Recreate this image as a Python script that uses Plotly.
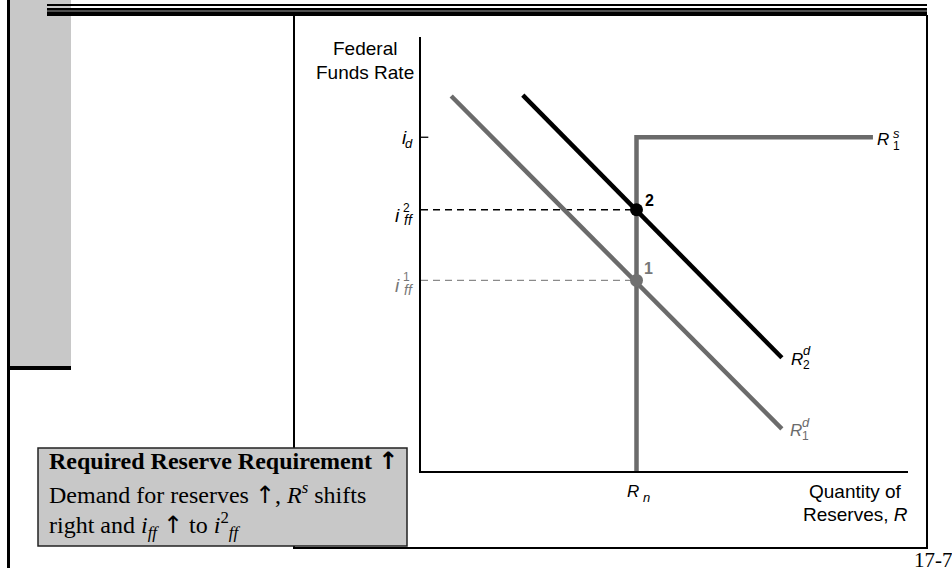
import plotly.graph_objects as go

# ---------------- data (arbitrary units 0-100) ----------------
x_range = [0, 100]
y_range = [0, 100]
Rn = 44.25            # non-borrowed reserves
i_d = 76.9            # discount rate
i_ff1 = 43.9          # initial equilibrium fed funds rate
i_ff2 = 60.2          # new equilibrium fed funds rate

rs1_x = [Rn, Rn, 92.8]
rs1_y = [0, i_d, i_d]
rd1_x = [6.2, 74.1]
rd1_y = [86.4, 9.7]
rd2_x = [20.9, 74.1]
rd2_y = [86.6, 26.1]

W, H = 952, 571
GRAY = "#6b6b6b"
SANS = "Liberation Sans, Arial, sans-serif"
SERIF = "Liberation Serif, Times New Roman, serif"
ARROW = '<span style="font-family:DejaVu Sans">\u2191</span>'


def px(x):
    return x / W


def py(y):
    return 1 - y / H


fig = go.Figure()

# dashed guides
fig.add_trace(go.Scatter(x=[0, Rn], y=[i_ff2, i_ff2], mode="lines",
                         line=dict(color="black", width=1.3, dash="7px,5px"), hoverinfo="skip"))
fig.add_trace(go.Scatter(x=[0, Rn], y=[i_ff1, i_ff1], mode="lines",
                         line=dict(color="#8a8a8a", width=1.3, dash="7px,5px"), hoverinfo="skip"))
# i_d tick
fig.add_trace(go.Scatter(x=[0, 1.5], y=[i_d, i_d], mode="lines",
                         line=dict(color="black", width=1.3), hoverinfo="skip"))
# curves
fig.add_trace(go.Scatter(x=rs1_x, y=rs1_y, mode="lines",
                         line=dict(color=GRAY, width=4.5), hoverinfo="skip"))
fig.add_trace(go.Scatter(x=rd1_x, y=rd1_y, mode="lines",
                         line=dict(color=GRAY, width=4.5), hoverinfo="skip"))
fig.add_trace(go.Scatter(x=rd2_x, y=rd2_y, mode="lines",
                         line=dict(color="black", width=4.5), hoverinfo="skip"))
# equilibrium points
fig.add_trace(go.Scatter(x=[Rn], y=[i_ff1], mode="markers",
                         marker=dict(color="#707070", size=13), hoverinfo="skip"))
fig.add_trace(go.Scatter(x=[Rn], y=[i_ff2], mode="markers",
                         marker=dict(color="black", size=13), hoverinfo="skip"))

ann = []


def A(xp, yp, text, size=18, color="black", family=SANS, xanchor="center", bold=False, italic=False):
    t = text
    if italic:
        t = "<i>" + t + "</i>"
    if bold:
        t = "<b>" + t + "</b>"
    ann.append(dict(x=px(xp), y=py(yp), xref="paper", yref="paper", text=t, showarrow=False,
                    xanchor=xanchor, yanchor="middle", borderpad=0,
                    font=dict(size=size, color=color, family=family)))


# axis titles
A(364.5, 48, "Federal", size=19)
A(364.5, 72, "Funds Rate", size=19)
A(855, 491.5, "Quantity of", size=19)
A(855, 514.5, "Reserves, <i>R</i>", size=19)

# y-axis labels
A(408, 137, "i", size=19, italic=True, xanchor="right")
A(404, 143, "d", size=13, italic=True, xanchor="left")

A(401, 215, "i", size=19, italic=True, xanchor="right")
A(402, 208, "2", size=12, xanchor="left")
A(403, 220, "ff", size=14, italic=True, xanchor="left")

A(401, 285, "i", size=19, italic=True, xanchor="right", color="#777777")
A(402, 277.5, "1", size=12, xanchor="left", color="#777777")
A(403, 290, "ff", size=14, italic=True, xanchor="left", color="#777777")

# x-axis label
A(633, 491, "R", size=17, italic=True)
A(642, 497.5, "n", size=13, italic=True, xanchor="left")

# curve labels
A(876, 140, "R", size=17, italic=True, xanchor="left")
A(892, 133, "s", size=13, italic=True, xanchor="left")
A(892, 146, "1", size=12, xanchor="left")

A(790, 359, "R", size=17, italic=True, xanchor="left")
A(802, 350.5, "d", size=13, italic=True, xanchor="left")
A(802, 364.5, "2", size=12, xanchor="left")

A(789, 430, "R", size=17, italic=True, xanchor="left", color=GRAY)
A(801, 422, "d", size=13, italic=True, xanchor="left", color=GRAY)
A(801, 436, "1", size=12, xanchor="left", color=GRAY)

# point labels
A(649, 200, "2", size=16, bold=True)
A(648, 268, "1", size=16, bold=True, color="#777777")

# text box
A(48, 461, "Required Reserve Requirement " + ARROW, size=24, family=SERIF, xanchor="left", bold=True)
A(48, 493, "Demand for reserves " + ARROW + ", <i>R</i><sup><i>s</i></sup> shifts", size=24,
  family=SERIF, xanchor="left")
A(48, 525, "right and <i>i</i><sub><i>ff</i></sub> " + ARROW + " to <i>i</i><sup>2</sup><sub><i>ff</i></sub>",
  size=24, family=SERIF, xanchor="left")

# slide number
A(913, 560, "17-7", size=21, family=SERIF, xanchor="left")

shapes = []


def R(x0, y0, x1, y1, fill, line_color=None, lw=0):
    shapes.append(dict(type="rect", xref="paper", yref="paper",
                       x0=px(x0), x1=px(x1), y0=py(y1), y1=py(y0),
                       fillcolor=fill, line=dict(color=line_color or fill, width=lw),
                       layer="above"))


# left decorations
R(10, 0, 71, 366, "#c8c8c8")
R(7, 0, 10, 568, "black")
R(7, 366, 71, 370, "black")
# top bands
R(47, 4, 927, 6, "black")
R(47, 8, 927, 16, "black")
R(47, 10.5, 927, 11.5, "#9a9a9a")
# chart frame
R(293, 15, 295, 548, "black")
R(926, 15, 928, 548, "black")
R(293, 547, 928, 549, "black")
# text box
shapes.append(dict(type="rect", xref="paper", yref="paper",
                   x0=px(38), x1=px(407), y0=py(546), y1=py(448),
                   fillcolor="#c8c8c8", line=dict(color="#222222", width=1.5), layer="above"))

fig.update_layout(
    width=W, height=H,
    margin=dict(l=0, r=0, t=0, b=0),
    paper_bgcolor="white", plot_bgcolor="rgba(0,0,0,0)",
    showlegend=False,
    xaxis=dict(range=x_range, domain=[px(421), px(908)], showline=True, linecolor="black", linewidth=1.5,
               showgrid=False, zeroline=False, showticklabels=False, ticks=""),
    yaxis=dict(range=y_range, domain=[py(471), py(37)], showline=True, linecolor="black", linewidth=1.5,
               showgrid=False, zeroline=False, showticklabels=False, ticks=""),
    annotations=ann,
    shapes=shapes,
)

fig.write_html("out.html", config={"displayModeBar": False},
               post_script="document.body.style.margin='0';document.body.style.overflow='hidden';")
